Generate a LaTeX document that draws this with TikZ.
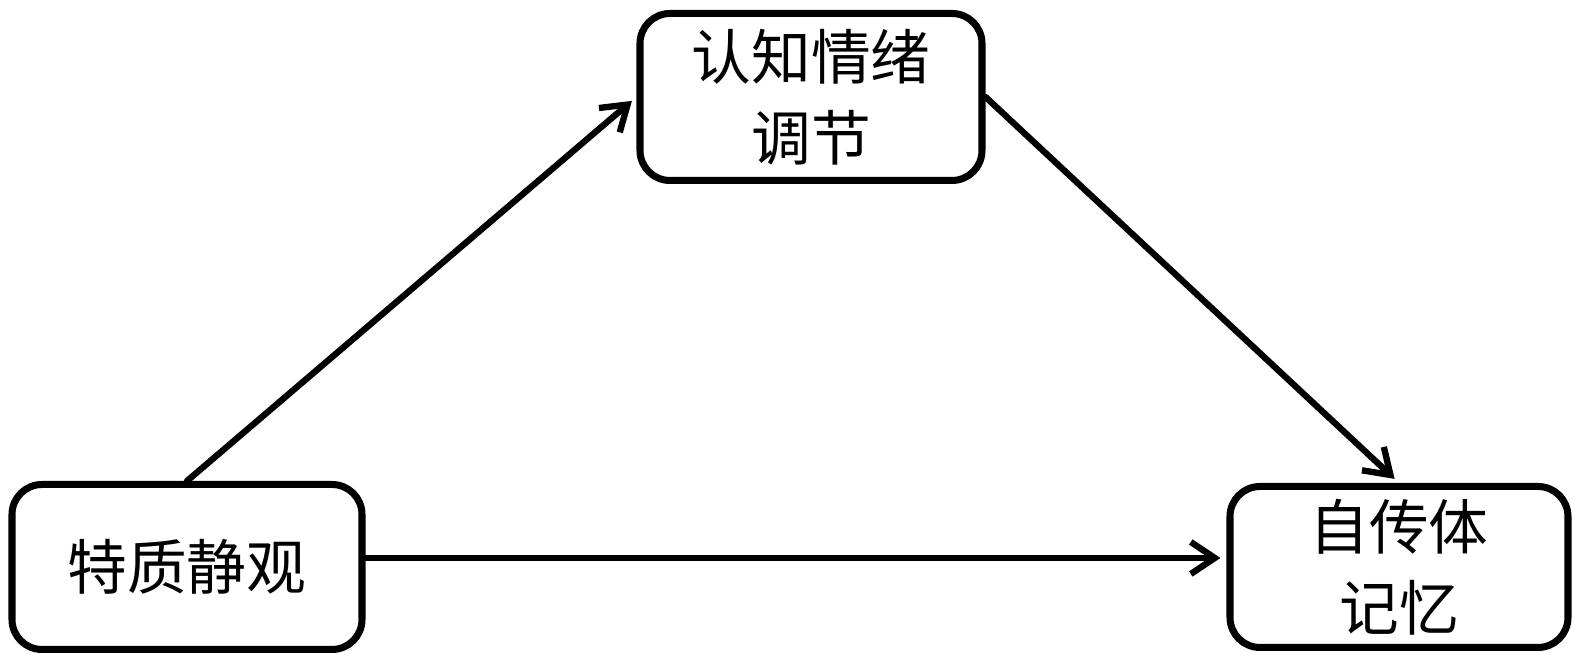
\documentclass[tikz,border=0pt]{standalone}
\usepackage{fontspec}
\newfontfamily\cjk{Noto Sans CJK SC}
\usetikzlibrary{arrows.meta,positioning,calc}

\begin{document}
\begin{tikzpicture}[
  box/.style={draw,line width=2pt,rounded corners=3mm,align=center,font=\cjk\fontsize{17}{23}\selectfont,inner sep=0pt},
  arr/.style={-{Straight Barb[length=2.4mm,width=3.2mm]},line width=1.8pt,line cap=round,line join=round,shorten >=0.6mm}
]
  \useasboundingbox (0,0) rectangle (15.75,6.59);
  \node[box,minimum width=3.42cm,minimum height=1.67cm] (reg) at (8.11,5.62) {认知情绪\\调节};
  \node[box,minimum width=3.50cm,minimum height=1.65cm] (trait) at (1.87,0.92) {特质静观};
  \node[box,minimum width=3.38cm,minimum height=1.61cm] (mem) at (13.99,0.92) {自传体\\记忆};
  \draw[arr] (trait.north) -- (reg.west);
  \draw[arr] (reg.east) -- (mem.north);
  \draw[arr] ([yshift=0.9mm]trait.east) -- ([yshift=0.9mm]mem.west);
\end{tikzpicture}
\end{document}
